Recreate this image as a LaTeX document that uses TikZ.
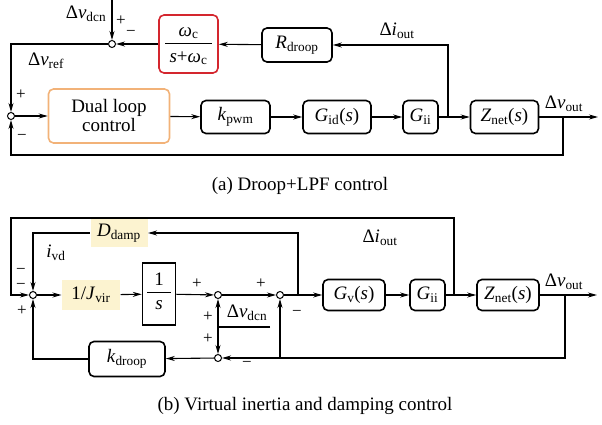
\documentclass[tikz,border=0pt]{standalone}
\usepackage{fontspec}
\setmainfont{Liberation Serif}
\newfontfamily\timesfam{Liberation Serif}
\usetikzlibrary{arrows.meta}
\definecolor{lpfred}{RGB}{212,38,46}
\definecolor{dlorange}{RGB}{242,178,120}
\definecolor{hiyel}{RGB}{252,243,208}
\newcommand{\vr}[2]{\textit{#1}\textsubscript{#2}}
\begin{document}
\begin{tikzpicture}[x=1pt,y=-1pt,
  font=\timesfam\fontsize{19}{22}\selectfont,
  line width=1.1pt,
  >={Stealth[length=9pt,width=5pt]},
  blk/.style={draw, line width=1.6pt, rounded corners=5pt, inner sep=0pt, minimum height=33pt},
  sumj/.style={circle, draw, fill=white, line width=1pt, inner sep=0pt, minimum size=7pt},
  hl/.style={fill=hiyel, inner sep=0pt},
  lbl/.style={inner sep=0pt},
  sgn/.style={inner sep=0pt, font=\timesfam\fontsize{17}{20}\selectfont}]
\useasboundingbox (0,0) rectangle (602,425);

% ---------------- (a) droop + low-pass filter ----------------
\node[sumj] (sA1) at (112,44) {};
\node[sumj] (sA2) at (11,116) {};
\node[blk, draw=lpfred, minimum width=59pt, minimum height=58pt] (lpf) at (188.5,44) {};
\node[lbl] (lpfnum) at (188.5,33) {\vr{ω}{c}};
\node[lbl] (lpfden) at (188.5,58) {\textit{s}+\vr{ω}{c}};
\draw[line width=1pt] (165,44) -- (212,44);
\node[blk, minimum width=70pt, minimum height=34pt] (rdr) at (297,45) {\vr{R}{droop}};
\node[blk, draw=dlorange, minimum width=121pt, minimum height=54pt, align=center] (dual) at (109,116) {Dual loop\\[-3pt]control};
\node[blk, minimum width=69pt] (kpwm) at (235.5,117) {\vr{k}{pwm}};
\node[blk, minimum width=68pt] (gid) at (337,117) {\vr{G}{id}(\textit{s})};
\node[blk, minimum width=35pt] (giiA) at (420.5,117) {\vr{G}{ii}};
\node[blk, minimum width=68pt] (znA) at (504.5,117) {\vr{Z}{net}(\textit{s})};

\coordinate (dcnA) at (112,0);
\coordinate (tapIA) at (448,117);
\coordinate (tapVA) at (563,117);
\coordinate (outA) at (598,117);

\draw[->] (dcnA) -- (sA1);
\draw[->] (tapIA) |- (rdr.east);
\draw[->] (rdr) -- (lpf);
\draw[->] (lpf) -- (sA1);
\draw[->] (sA1) -| (sA2);
\draw[->] (sA2) -- (dual);
\draw[->] (dual) -- (kpwm);
\draw[->] (kpwm) -- (gid);
\draw[->] (gid) -- (giiA);
\draw[->] (giiA) -- (znA);
\draw[->] (znA) -- (outA);
\draw[->] (tapVA) -- (563,155) -| (sA2);

\node[lbl] (dcnAl) at (86,14) {Δ\vr{v}{dcn}};
\node[sgn] (pA1) at (121,21) {+};
\node[sgn] (mA1) at (131,33) {−};
\node[lbl] (vrefl) at (46,61) {Δ\vr{v}{ref}};
\node[sgn] (pA2) at (21,95) {+};
\node[sgn] (mA2) at (22,137) {−};
\node[lbl] (ioutAl) at (397,31) {Δ\vr{i}{out}};
\node[lbl] (voutAl) at (564,104) {Δ\vr{v}{out}};
\node[lbl] (capA) at (300,186) {(a) Droop+LPF control};

% ---------------- (b) virtual inertia and damping ----------------
\node[sumj] (sB1) at (33,295) {};
\node[sumj] (sB2) at (218,295) {};
\node[sumj] (sB3) at (280,295) {};
\node[sumj] (sB4) at (218,358) {};
\node[hl, minimum width=57pt, minimum height=28pt] (dd) at (119,233) {\vr{D}{damp}};
\node[hl, minimum width=58pt, minimum height=30pt] (jv) at (91,295) {1/\vr{J}{vir}};
\node[draw, line width=1.6pt, inner sep=0pt, minimum width=33pt, minimum height=62pt] (itg) at (159,294) {};
\node[lbl] (itgn) at (159,279) {1};
\node[lbl] (itgd) at (159,305) {\textit{s}};
\draw[line width=1pt] (147,292) -- (171,292);
\node[blk, minimum width=62pt, minimum height=31pt] (gv) at (354,295) {\vr{G}{v}(\textit{s})};
\node[blk, minimum width=35pt, minimum height=31pt] (giiB) at (427.5,295) {\vr{G}{ii}};
\node[blk, minimum width=62pt, minimum height=31pt] (znB) at (508,295) {\vr{Z}{net}(\textit{s})};
\node[blk, minimum width=76pt, minimum height=35pt] (kdr) at (127,359) {\vr{k}{droop}};

\coordinate (tapIB) at (454,295);
\coordinate (tapVB) at (565,295);
\coordinate (outB) at (597,295);
\coordinate (tapD) at (298,295);
\coordinate (tapS3) at (280,358);
\coordinate (dcnB) at (270,327);
\coordinate (dcnBj) at (218,327);

\draw[->] (tapIB) -- (454,218) -- (11,218) |- (sB1);
\draw[->] (tapD) |- (dd.east);
\draw[->] (dd.west) -| (sB1);
\draw[->] (sB1) -- (jv);
\draw[->] (jv) -- (itg);
\draw[->] (itg) -- (sB2);
\draw[->] (sB2) -- (sB3);
\draw[->] (sB3) -- (gv);
\draw[->] (gv) -- (giiB);
\draw[->] (giiB) -- (znB);
\draw[->] (znB) -- (outB);
\draw[->] (tapVB) |- (sB4);
\draw[->] (tapS3) -- (sB3);
\draw (dcnB) -- (dcnBj);
\draw[->] (dcnBj) -- (sB2);
\draw[->] (dcnBj) -- (sB4);
\draw[->] (sB4) -- (kdr);
\draw[->] (kdr.west) -| (sB1);

\node[lbl] (ivdl) at (56,253) {\vr{i}{vd}};
\node[sgn] (mB1a) at (21,271) {−};
\node[sgn] (mB1b) at (21,286) {−};
\node[sgn] (pB1) at (22,311) {+};
\node[sgn] (pB2) at (197,284) {+};
\node[sgn] (pB3) at (261,284) {+};
\node[sgn] (mB3) at (297,313) {−};
\node[sgn] (pB4a) at (208,317) {+};
\node[sgn] (pB4b) at (208,339) {+};
\node[sgn] (mB4) at (247,364) {−};
\node[lbl] (dcnBl) at (247,313) {Δ\vr{v}{dcn}};
\node[lbl] (ioutBl) at (380,238) {Δ\vr{i}{out}};
\node[lbl] (voutBl) at (564,282) {Δ\vr{v}{out}};
\node[lbl] (capB) at (305,406) {(b) Virtual inertia and damping control};
\end{tikzpicture}
\end{document}
